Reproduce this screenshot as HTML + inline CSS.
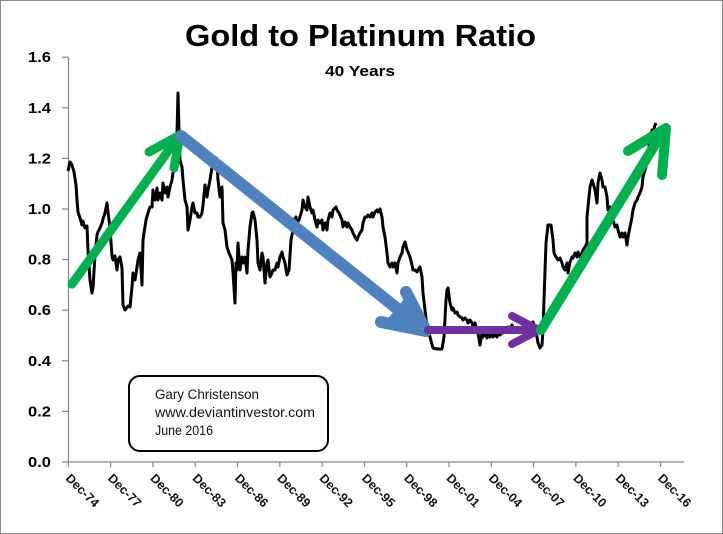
<!DOCTYPE html>
<html><head><meta charset="utf-8"><style>
html,body{margin:0;padding:0;background:#fff;}
svg{display:block;}
</style></head><body>
<svg width="723" height="534" viewBox="0 0 723 534" xmlns="http://www.w3.org/2000/svg" font-family="'Liberation Sans', sans-serif">
<rect x="0.5" y="0.5" width="722" height="533" fill="#fff" stroke="#8a8a8a" stroke-width="1"/>
<text x="360.5" y="46" text-anchor="middle" font-size="31" font-weight="bold" fill="#000" textLength="351" lengthAdjust="spacingAndGlyphs">Gold to Platinum Ratio</text>
<text x="360" y="76" text-anchor="middle" font-size="15" font-weight="bold" fill="#000" textLength="70" lengthAdjust="spacingAndGlyphs">40 Years</text>
<g stroke="#868686" stroke-width="1.2" fill="none">
<line x1="68.5" y1="57" x2="68.5" y2="462"/>
<line x1="68" y1="462" x2="684" y2="462"/>
<line x1="62" y1="462" x2="68" y2="462"/>
<line x1="62" y1="411.4" x2="68" y2="411.4"/>
<line x1="62" y1="360.8" x2="68" y2="360.8"/>
<line x1="62" y1="310.2" x2="68" y2="310.2"/>
<line x1="62" y1="259.6" x2="68" y2="259.6"/>
<line x1="62" y1="209" x2="68" y2="209"/>
<line x1="62" y1="158.4" x2="68" y2="158.4"/>
<line x1="62" y1="107.8" x2="68" y2="107.8"/>
<line x1="62" y1="57.2" x2="68" y2="57.2"/>
<line x1="68.3" y1="462" x2="68.3" y2="467"/>
<line x1="110.6" y1="462" x2="110.6" y2="467"/>
<line x1="152.9" y1="462" x2="152.9" y2="467"/>
<line x1="195.2" y1="462" x2="195.2" y2="467"/>
<line x1="237.5" y1="462" x2="237.5" y2="467"/>
<line x1="279.8" y1="462" x2="279.8" y2="467"/>
<line x1="322.1" y1="462" x2="322.1" y2="467"/>
<line x1="364.4" y1="462" x2="364.4" y2="467"/>
<line x1="406.7" y1="462" x2="406.7" y2="467"/>
<line x1="449" y1="462" x2="449" y2="467"/>
<line x1="491.3" y1="462" x2="491.3" y2="467"/>
<line x1="533.6" y1="462" x2="533.6" y2="467"/>
<line x1="575.9" y1="462" x2="575.9" y2="467"/>
<line x1="618.2" y1="462" x2="618.2" y2="467"/>
<line x1="660.5" y1="462" x2="660.5" y2="467"/>
</g>
<g font-size="15" font-weight="bold" fill="#000" text-anchor="end">
<text x="51" y="467" textLength="23" lengthAdjust="spacingAndGlyphs">0.0</text>
<text x="51" y="416.4" textLength="23" lengthAdjust="spacingAndGlyphs">0.2</text>
<text x="51" y="365.8" textLength="23" lengthAdjust="spacingAndGlyphs">0.4</text>
<text x="51" y="315.2" textLength="23" lengthAdjust="spacingAndGlyphs">0.6</text>
<text x="51" y="264.6" textLength="23" lengthAdjust="spacingAndGlyphs">0.8</text>
<text x="51" y="214" textLength="23" lengthAdjust="spacingAndGlyphs">1.0</text>
<text x="51" y="163.4" textLength="23" lengthAdjust="spacingAndGlyphs">1.2</text>
<text x="51" y="112.8" textLength="23" lengthAdjust="spacingAndGlyphs">1.4</text>
<text x="51" y="62.2" textLength="23" lengthAdjust="spacingAndGlyphs">1.6</text>
</g>
<g font-size="12.5" font-weight="bold" fill="#111">
<text transform="translate(65,479) rotate(45)">Dec-74</text>
<text transform="translate(107.3,479) rotate(45)">Dec-77</text>
<text transform="translate(149.6,479) rotate(45)">Dec-80</text>
<text transform="translate(191.9,479) rotate(45)">Dec-83</text>
<text transform="translate(234.2,479) rotate(45)">Dec-86</text>
<text transform="translate(276.5,479) rotate(45)">Dec-89</text>
<text transform="translate(318.8,479) rotate(45)">Dec-92</text>
<text transform="translate(361.1,479) rotate(45)">Dec-95</text>
<text transform="translate(403.4,479) rotate(45)">Dec-98</text>
<text transform="translate(445.7,479) rotate(45)">Dec-01</text>
<text transform="translate(488,479) rotate(45)">Dec-04</text>
<text transform="translate(530.3,479) rotate(45)">Dec-07</text>
<text transform="translate(572.6,479) rotate(45)">Dec-10</text>
<text transform="translate(614.9,479) rotate(45)">Dec-13</text>
<text transform="translate(657.2,479) rotate(45)">Dec-16</text>
</g>
<polyline fill="none" stroke="#000" stroke-width="3" stroke-linejoin="round" points="68,171 70,162 72,165 74,172 76,185 77,200 78,212 80,218 82,225 83,221 85,228 87,226 88,250 90,280 92,293 93,288 95,255 97,235 98,232 100,228 102,223 103,219 105,213 107,203 108,212 110,228 112,256 113,260 115,256 117,270 118,260 120,257 122,268 123,305 125,310 128,306 130,307 132,287 133,273 135,280 137,267 138,260 140,253 142,285 143,240 144,233 146,220 148,213 150,207 152,207 153,190 155,200 157,188 158,200 160,193 162,200 163,183 165,193 167,187 168,197 170,187 172,180 173,173 175,167 177,133 178,93 179,130 180,160 182,167 183,180 185,200 187,207 188,230 190,220 192,207 193,203 195,213 197,213 198,217 200,217 202,213 203,205 205,185 207,197 208,190 210,180 212,167 213,160 216,158 217,163 218,180 220,197 222,187 223,223 225,230 227,247 229,253 232,260 233,273 235,303 236,263 237,270 238,243 240,270 242,257 243,263 245,257 247,273 248,250 250,227 252,213 253,212 255,220 257,240 258,263 260,270 262,253 263,257 265,283 267,263 268,260 270,277 272,273 273,270 275,270 277,263 278,267 280,257 282,252 283,257 285,263 287,275 289,270 291,240 293,230 294,220 296,217 297,223 299,220 302,210 303,200 305,207 307,210 308,197 310,207 312,213 313,210 315,220 317,227 318,220 320,223 322,220 323,230 325,223 327,230 328,220 330,213 332,217 333,210 336,207 337,210 339,213 342,220 343,227 345,222 347,227 348,223 350,227 352,230 353,233 355,237 357,240 358,237 360,233 362,230 363,223 365,217 367,217 368,215 370,217 372,213 373,217 375,212 377,210 378,212 380,209 382,217 383,227 385,237 387,253 388,263 390,267 392,263 393,267 395,263 397,273 398,263 400,257 402,253 403,247 405,242 407,250 408,252 410,257 412,265 413,270 415,270 417,272 418,270 420,267 422,277 423,293 425,310 427,327 430,337 433,348 437,349 442,349 444,337 446,300 447,290 448,288 450,303 452,310 453,308 455,313 457,312 458,315 460,317 462,318 463,320 465,318 467,320 468,323 470,320 472,323 473,327 475,323 477,330 478,333 480,345 482,333 483,337 485,333 487,338 488,335 490,337 492,333 493,337 495,335 497,337 498,333 500,335 502,332 503,333 505,330 507,332 508,327 510,328 512,325 513,327 515,330 520,328 525,326 530,324 533,322 535,328 537,337 538,343 540,348 542,345 543,330 544,300 546,243 548,225 551,225 553,240 554,253 556,257 558,260 560,258 562,263 563,267 565,270 567,263 568,273 570,262 572,257 573,258 575,253 577,257 578,252 580,257 582,253 583,250 585,247 587,243 587,217 589,197 590,187 592,180 593,183 595,190 597,203 598,183 600,173 602,180 603,187 605,187 607,197 608,210 610,207 612,210 613,220 615,227 617,225 618,230 620,237 622,233 623,237 625,233 627,245 628,237 630,227 632,217 633,210 635,203 637,200 638,197 640,193 642,187 643,177 645,170 647,163 648,157 650,137 652,130 653,133 655,125 656,123"/>
<g fill="none" stroke-linecap="round" stroke-linejoin="round">
<g stroke="#00B050" stroke-width="9">
<line x1="72" y1="284" x2="179" y2="136"/>
<polyline points="149,152 180,135 174,168"/>
</g>
<g stroke="#4F81BD" stroke-width="12">
<line x1="181" y1="136" x2="424" y2="330"/>
<polyline points="381,322 426,331 406,292"/>
</g>
<polygon points="427,331 386,321 405,298" fill="#4F81BD"/>
<g stroke="#7030A0" stroke-width="8">
<line x1="428" y1="330" x2="537" y2="330"/>
<polyline points="512,316 539,330 512,344"/>
</g>
<g stroke="#00B050" stroke-width="10">
<line x1="541" y1="330" x2="664" y2="130"/>
<polyline points="628,151 666,128 662,175"/>
</g>
</g>
<rect x="129" y="376" width="199" height="75" rx="11" ry="11" fill="#fff" stroke="#000" stroke-width="2"/>
<g font-size="13.5" fill="#111">
<text x="155" y="399" textLength="104" lengthAdjust="spacingAndGlyphs">Gary Christenson</text>
<text x="155" y="417" textLength="160" lengthAdjust="spacingAndGlyphs">www.deviantinvestor.com</text>
<text x="155" y="435" textLength="58" lengthAdjust="spacingAndGlyphs">June 2016</text>
</g>
</svg>
</body></html>
